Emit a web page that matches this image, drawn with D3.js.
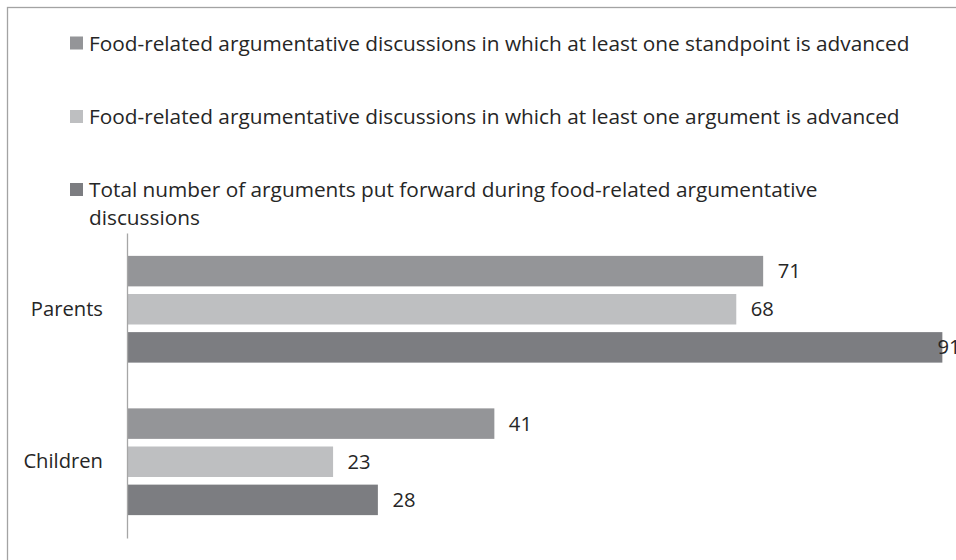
<!DOCTYPE html>
<html>
<head>
<meta charset="utf-8">
<script src="https://cdn.jsdelivr.net/npm/d3@7"></script>
<style>
body { margin: 0; background: #fff; }
svg { display: block; font-family: "Open Sans", sans-serif; }
</style>
</head>
<body>
<div id="chartArea"></div>
<script>
const categories = ["Parents", "Children"];
const seriesNames = [
  "Food-related argumentative discussions in which at least one standpoint is advanced",
  "Food-related argumentative discussions in which at least one argument is advanced",
  "Total number of arguments put forward during food-related argumentative discussions"
];
const legendLines = [
  ["Food-related argumentative discussions in which at least one standpoint is advanced"],
  ["Food-related argumentative discussions in which at least one argument is advanced"],
  ["Total number of arguments put forward during food-related argumentative", "discussions"]
];
const standpointValues = [71, 41];
const argumentValues = [68, 23];
const totalArgumentValues = [91, 28];
const seriesColors = ["#949598", "#bebfc1", "#7c7d81"];

const W = 956, H = 560;
const fontSize = 20.2;
const legendFontSize = 20.8;

const svg = d3.select("#chartArea")
  .append("svg")
  .attr("width", W)
  .attr("height", H);

// outer chart frame (only top & left edges are in view)
svg.append("rect")
  .attr("x", 7.5).attr("y", 7.5)
  .attr("width", 1100).attr("height", 700)
  .attr("fill", "none")
  .attr("stroke", "#a3a3a3")
  .attr("stroke-width", 1.3);

const rows = categories.map((c, i) => ({
  category: c,
  values: [standpointValues[i], argumentValues[i], totalArgumentValues[i]]
}));

const x = d3.scaleLinear().domain([0, 100]).range([127, 1023]);

const y0 = d3.scaleBand()
  .domain(categories)
  .range([233, 538])
  .paddingInner(0.3)
  .paddingOuter(0.15);

const y1 = d3.scaleBand()
  .domain(d3.range(seriesNames.length))
  .range([0, y0.bandwidth()])
  .paddingInner(0.2)
  .paddingOuter(0);

// bars
const groups = svg.selectAll(".group")
  .data(rows)
  .enter()
  .append("g")
  .attr("transform", d => `translate(0,${y0(d.category)})`);

groups.selectAll("rect")
  .data(d => d.values.map((v, i) => ({ v, i })))
  .enter()
  .append("rect")
  .attr("x", x(0))
  .attr("y", d => y1(d.i))
  .attr("width", d => x(d.v) - x(0))
  .attr("height", y1.bandwidth())
  .attr("fill", d => seriesColors[d.i]);

// value labels (kept inside the chart area like the original)
groups.selectAll(".val")
  .data(d => d.values.map((v, i) => ({ v, i })))
  .enter()
  .append("text")
  .attr("x", d => Math.min(x(d.v) + 14.5, 937.5))
  .attr("y", d => y1(d.i) + y1.bandwidth() / 2)
  .attr("dy", "0.35em")
  .style("font-size", fontSize + "px")
  .attr("fill", "#262626")
  .text(d => d.v);

// category axis
const axis = svg.append("g")
  .attr("transform", `translate(${x(0)},0)`)
  .call(d3.axisLeft(y0).tickSize(0).tickPadding(24));
axis.select(".domain").attr("stroke", "#a6a6a6").attr("stroke-width", 1.3);
axis.selectAll("text")
  .style("font-size", fontSize + "px")
  .style("font-family", "'Open Sans', sans-serif")
  .attr("fill", "#262626");

// legend
const legendBaselines = [50.5, 124, 197];
const legend = svg.selectAll(".legend")
  .data(legendLines)
  .enter()
  .append("g")
  .attr("transform", (d, i) => `translate(70,${legendBaselines[i]})`);

legend.append("rect")
  .attr("x", 0)
  .attr("y", -14)
  .attr("width", 13)
  .attr("height", 13)
  .attr("fill", (d, i) => seriesColors[i]);

legend.append("text")
  .style("font-size", legendFontSize + "px")
  .attr("fill", "#262626")
  .selectAll("tspan")
  .data(d => d)
  .enter()
  .append("tspan")
  .attr("x", 19)
  .attr("y", (d, j) => j * 28)
  .text(d => d);
</script>
</body>
</html>
